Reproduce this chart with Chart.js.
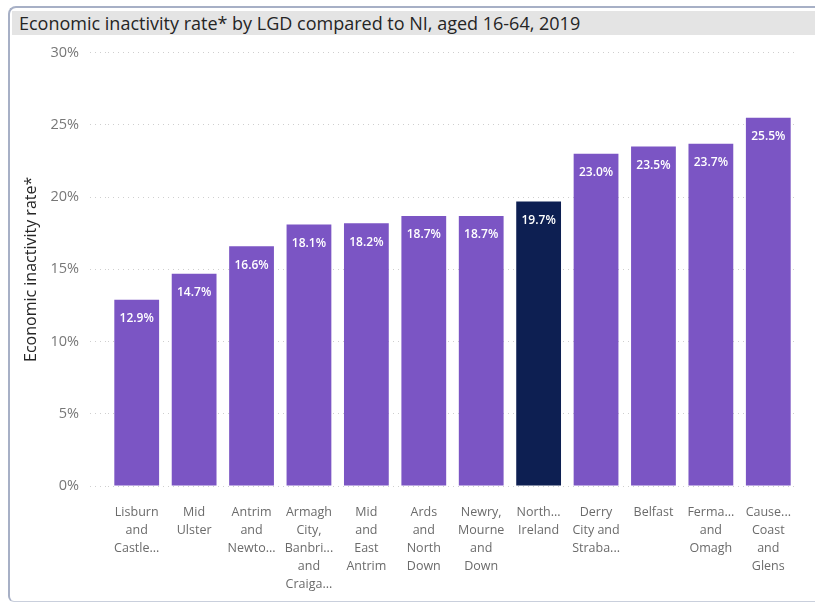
<!DOCTYPE html>
<html>
<head>
<meta charset="utf-8">
<script src="https://cdn.jsdelivr.net/npm/chart.js@4/dist/chart.umd.min.js"></script>
<style>
    html, body { margin: 0; padding: 0; background: #fff; }
    body { width: 815px; height: 603px; position: relative; overflow: hidden; font-family: "Open Sans", sans-serif; }
    .frame {
        position: absolute; left: 8px; top: 6px; width: 820px; height: 593px;
        border-left: 2px solid #a7b0c6; border-top: 2px solid #a7b0c6;
        border-bottom: 1px solid #c9cfdc;
        border-radius: 8px 0 0 6px;
    }
    .title {
        position: absolute; left: 12px; top: 11px; width: 803px; height: 24px;
        background: #e4e4e4; color: #252525;
        font-size: 18px; line-height: 24px; padding-left: 7px; white-space: nowrap;
    }
    .wrap { position: absolute; left: 10px; top: 33px; width: 800px; height: 567px; }
</style>
</head>
<body>
<div class="frame"></div>
<div class="title">Economic inactivity rate* by LGD compared to NI, aged 16-64, 2019</div>
<div class="wrap"><canvas id="chart.area"></canvas></div>
<script>
const areas = [
    ['Lisburn', 'and', 'Castle...'],
    ['Mid', 'Ulster'],
    ['Antrim', 'and', 'Newto...'],
    ['Armagh', 'City,', 'Banbri...', 'and', 'Craiga...'],
    ['Mid', 'and', 'East', 'Antrim'],
    ['Ards', 'and', 'North', 'Down'],
    ['Newry,', 'Mourne', 'and', 'Down'],
    ['North...', 'Ireland'],
    ['Derry', 'City and', 'Straba...'],
    ['Belfast'],
    ['Ferma...', 'and', 'Omagh'],
    ['Cause...', 'Coast', 'and', 'Glens']
];
const rates = [12.9, 14.7, 16.6, 18.1, 18.2, 18.7, 18.7, 19.7, 23.0, 23.5, 23.7, 25.5];
const yTicks = [0, 5, 10, 15, 20, 25, 30];

const PURPLE = '#7b55c4';
const NAVY = '#0d1f52';

// white value labels inside the top of each bar
const barLabels = {
    id: 'barLabels',
    afterDatasetsDraw(chart) {
        const ctx = chart.ctx;
        const meta = chart.getDatasetMeta(0);
        ctx.save();
        ctx.fillStyle = '#ffffff';
        ctx.font = '600 12px "Open Sans"';
        ctx.textAlign = 'center';
        ctx.textBaseline = 'middle';
        meta.data.forEach((bar, i) => {
            const p = bar.getProps(['x', 'y'], true);
            ctx.fillText(rates[i].toFixed(1) + '%', p.x, p.y + 19);
        });
        ctx.restore();
    }
};

const config = {
    type: 'bar',
    data: {
        labels: areas,
        datasets: [{
            data: rates,
            backgroundColor: rates.map((v, i) => areas[i][0] === 'North...' ? NAVY : PURPLE),
            categoryPercentage: 1,
            barPercentage: 0.78
        }]
    },
    options: {
        responsive: true,
        maintainAspectRatio: false,
        animation: false,
        layout: { padding: { top: 13, right: 13, left: 0, bottom: 0 } },
        plugins: {
            legend: { display: false },
            tooltip: { enabled: false }
        },
        scales: {
            x: {
                grid: { display: false },
                border: { display: false },
                ticks: {
                    color: '#6b6b6b',
                    font: { family: 'Open Sans', size: 12.5, lineHeight: 1.45 },
                    padding: 9,
                    maxRotation: 0,
                    autoSkip: false
                },
                afterFit(scale) { scale.height = 114; }
            },
            y: {
                min: 0,
                max: 30,
                grid: {
                    color: '#cfcfcf',
                    lineWidth: 1,
                    tickLength: 18,
                    tickColor: '#cfcfcf',
                    tickBorderDash: [1, 4]
                },
                border: { display: false, dash: [1, 4] },
                ticks: {
                    stepSize: 5,
                    color: '#777777',
                    padding: 11,
                    font: { family: 'Open Sans', size: 14.5 },
                    callback: v => yTicks.includes(v) ? v + '%' : ''
                },
                title: {
                    display: true,
                    text: 'Economic inactivity rate*',
                    color: '#252525',
                    font: { family: 'Open Sans', size: 16 },
                    padding: { top: 12, bottom: 0 }
                },
                afterFit(scale) { scale.width = 98; }
            }
        }
    },
    plugins: [barLabels]
};
const chart = new Chart(document.getElementById('chart.area'), config);
</script>
</body>
</html>
